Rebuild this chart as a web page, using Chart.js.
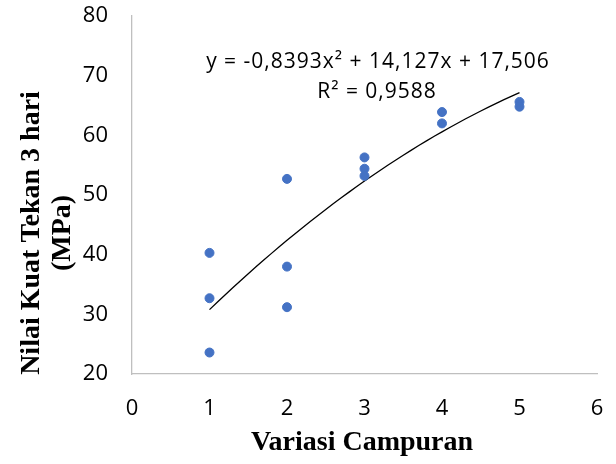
<!DOCTYPE html>
<html lang="id">
<head>
<meta charset="UTF-8">
<title>Nilai Kuat Tekan 3 hari</title>
<script src="https://cdn.jsdelivr.net/npm/chart.js"></script>
<style>
  html, body { margin: 0; padding: 0; background: #fff; }
  #wrap { width: 616px; height: 464px; }
</style>
</head>
<body>
<div id="wrap"><canvas id="chart"></canvas></div>
<script>
// measured compressive strength per mix variation
const variasi = [1, 1, 1, 2, 2, 2, 3, 3, 3, 4, 4, 5, 5];
const kuatTekan = [40.3, 32.7, 23.6, 52.7, 38.0, 31.2, 56.3, 54.4, 53.2, 63.9, 62.0, 65.6, 64.8];

// polynomial trendline (order 2): y = a x^2 + b x + c
const koefisien = [-0.8393, 14.127, 17.506];
const persamaan = 'y = -0,8393x² + 14,127x + 17,506';
const rKuadrat = 'R² = 0,9588';

const xTicks = [0, 1, 2, 3, 4, 5, 6];
const yTicks = [20, 30, 40, 50, 60, 70, 80];

const tickFont = { family: 'Open Sans', size: 22 };
const titleFont = 'bold 28px "Liberation Serif"';

const trend = [];
for (let i = 0; i <= 40; i++) {
  const x = 1 + i * 0.1;
  trend.push({ x: x, y: koefisien[0] * x * x + koefisien[1] * x + koefisien[2] });
}

const labelsPlugin = {
  id: 'labels',
  afterDraw(chart) {
    const ctx = chart.ctx;
    ctx.save();
    ctx.fillStyle = '#000';
    ctx.textAlign = 'center';
    ctx.textBaseline = 'middle';
    // trendline equation
    ctx.font = '21px "Open Sans"';
    ctx.letterSpacing = '1px';
    ctx.fillText(persamaan, 378, 62);
    ctx.fillText(rKuadrat, 377, 92);
    ctx.letterSpacing = '0px';
    // axis titles
    ctx.font = titleFont;
    ctx.textBaseline = 'alphabetic';
    ctx.fillText('Variasi Campuran', 362, 450);
    ctx.translate(39, 233);
    ctx.rotate(-Math.PI / 2);
    ctx.fillText('Nilai Kuat Tekan 3 hari', 0, 0);
    ctx.fillText('(MPa)', 0, 31);
    ctx.restore();
  }
};

new Chart(document.getElementById('chart'), {
  type: 'scatter',
  data: {
    datasets: [
      {
        label: 'Kuat tekan',
        data: variasi.map((x, i) => ({ x: x, y: kuatTekan[i] })),
        backgroundColor: '#4472C4',
        borderColor: '#4472C4',
        pointRadius: 4.5,
        pointHoverRadius: 4.5
      },
      {
        label: 'Poly.',
        type: 'line',
        data: trend,
        borderColor: '#000',
        borderWidth: 1.3,
        pointRadius: 0,
        fill: false,
        tension: 0
      }
    ]
  },
  options: {
    responsive: true,
    maintainAspectRatio: false,
    animation: false,
    layout: { padding: { top: 16, right: 19, left: 0, bottom: 0 } },
    plugins: {
      legend: { display: false },
      tooltip: { enabled: false }
    },
    scales: {
      x: {
        type: 'linear',
        min: 0,
        max: 6,
        afterBuildTicks: s => { s.ticks = xTicks.map(v => ({ value: v })); },
        afterFit: s => { s.height = 90; s.paddingLeft = 0; s.paddingRight = 0; },
        grid: { display: false, drawTicks: false },
        border: { display: true, color: '#bfbfbf', width: 1.3 },
        ticks: { font: tickFont, color: '#000', padding: 22 }
      },
      y: {
        min: 20,
        max: 80,
        afterBuildTicks: s => { s.ticks = yTicks.map(v => ({ value: v })); },
        afterFit: s => { s.width = 132; s.paddingTop = 0; s.paddingBottom = 0; },
        grid: { display: false, drawTicks: false },
        border: { display: true, color: '#bfbfbf', width: 1.3 },
        ticks: { font: tickFont, color: '#000', padding: 24 }
      }
    }
  },
  plugins: [labelsPlugin]
});
</script>
</body>
</html>
